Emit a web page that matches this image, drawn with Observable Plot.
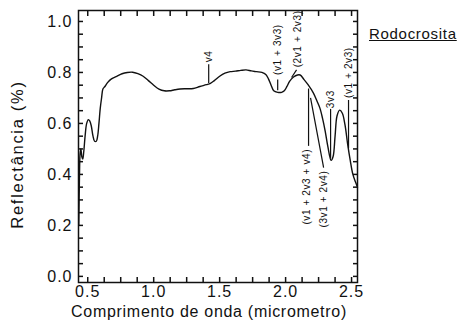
<!DOCTYPE html>
<html><head><meta charset="utf-8">
<script src="https://cdn.jsdelivr.net/npm/d3@7"></script>
<script src="https://cdn.jsdelivr.net/npm/@observablehq/plot@0.6"></script>
<style>
body{margin:0;background:#fff;}
#chart{position:relative;width:463px;height:327px;}
#title{position:absolute;left:369px;top:25px;font:15px "Liberation Sans",Arial,sans-serif;letter-spacing:0.7px;text-decoration:underline;color:#111;}
</style></head><body><div id="chart"><div id="title">Rodocrosita</div></div>
<script>
const wavelength = [0.432,0.437,0.442,0.448,0.455,0.462,0.470,0.480,0.492,0.505,0.515,0.527,0.540,0.552,0.565,0.575,0.585,0.595,0.605,0.615,0.630,0.650,0.680,0.720,0.760,0.800,0.840,0.880,0.920,0.960,1.000,1.040,1.080,1.120,1.160,1.200,1.250,1.300,1.350,1.400,1.430,1.460,1.500,1.540,1.580,1.620,1.660,1.700,1.740,1.780,1.820,1.850,1.870,1.890,1.910,1.940,1.970,1.990,2.010,2.030,2.060,2.090,2.110,2.140,2.170,2.210,2.240,2.260,2.280,2.300,2.320,2.345,2.360,2.375,2.390,2.410,2.430,2.450,2.470,2.490,2.510,2.530,2.545];
const reflectance = [0.20,0.38,0.48,0.50,0.47,0.46,0.49,0.55,0.60,0.615,0.61,0.59,0.55,0.53,0.53,0.55,0.60,0.66,0.70,0.735,0.745,0.76,0.775,0.785,0.795,0.800,0.801,0.795,0.785,0.768,0.750,0.735,0.728,0.728,0.732,0.735,0.736,0.737,0.745,0.752,0.757,0.768,0.785,0.797,0.803,0.805,0.808,0.810,0.806,0.803,0.800,0.792,0.775,0.750,0.728,0.722,0.722,0.728,0.745,0.765,0.782,0.790,0.790,0.772,0.752,0.720,0.685,0.66,0.62,0.57,0.51,0.455,0.47,0.55,0.63,0.652,0.64,0.595,0.52,0.455,0.40,0.37,0.35];

const xMajorTicks = [0.5,1.0,1.5,2.0,2.5];
const xMinorTicks = [0.5,0.625,0.75,0.875,1.0,1.125,1.25,1.375,1.5,1.625,1.75,1.875,2.0,2.125,2.25,2.375,2.5];
const yMajorTicks = [0.0,0.2,0.4,0.6,0.8,1.0];
const yMinorTicks = [0,0.05,0.1,0.15,0.2,0.25,0.3,0.35,0.4,0.45,0.5,0.55,0.6,0.65,0.7,0.75,0.8,0.85,0.9,0.95,1.0];

const xTitle = "Comprimento de onda (micrometro)";
const yTitle = "Reflectância (%)";

const bandLabels = ["v4","(v1 + 3v3)","(2v1 + 2v3)","(v1 + 2v3 + v4)","(3v1 + 2v4)","3v3","(v1 + 2v3)"];
const bandLabelX = [1.417,1.94,2.09,2.163,2.288,2.341,2.477];
const bandLabelY = [0.84,0.79,0.82,0.50,0.415,0.66,0.70];
const bandLabelAnchor = ["start","start","start","end","end","start","start"];

const leaderX = [1.417,1.94,2.174,2.341,2.477];
const leaderY1 = [0.757,0.728,0.735,0.655,0.50];
const leaderY2 = [0.83,0.77,0.51,0.46,0.69];

const slantX1 = [2.045,2.189];
const slantY1 = [0.78,0.70];
const slantX2 = [2.083,2.288];
const slantY2 = [0.81,0.427];

const spectrum = wavelength.map((x,i)=>({x, y: reflectance[i]}));
const labelsData = bandLabels.map((t,i)=>({t, x: bandLabelX[i], y: bandLabelY[i], a: bandLabelAnchor[i]}));
const leaders = leaderX.map((x,i)=>({x, y1: leaderY1[i], y2: leaderY2[i]}));
const slants = slantX1.map((x,i)=>({x1:x, y1:slantY1[i], x2:slantX2[i], y2:slantY2[i]}));

const W = 463, H = 327, mL = 78, mR = 106, mT = 10, mB = 45;
const tk = 5;
const ink = "#111";
const font = '"Liberation Sans", Arial, sans-serif';
const tickOpts = {tickSize: -tk, tickFormat: () => "", label: null, stroke: ink, strokeWidth: 1.5};
const chart = Plot.plot({
  width: W, height: H,
  marginLeft: mL, marginRight: mR, marginTop: mT, marginBottom: mB,
  style: {fontFamily: font, background: "white", color: ink, overflow: "visible"},
  x: {domain: [0.43, 2.545]},
  y: {domain: [-0.024, 1.043]},
  marks: [
    Plot.axisX(xMajorTicks, {tickSize: 0, tickPadding: 3, tickFormat: d=>d.toFixed(1), fontSize: 16, label: null}),
    Plot.axisY(yMajorTicks, {tickSize: 0, tickPadding: 6, tickFormat: d=>d.toFixed(1), fontSize: 16, label: null}),
    Plot.text([xTitle], {frameAnchor: "bottom", textAnchor: "middle", dx: -9, dy: 34, fontSize: 16, text: d=>d}),
    Plot.text([yTitle], {frameAnchor: "left", textAnchor: "middle", dx: -61, dy: 8, rotate: -90, fontSize: 16.5, text: d=>d}),
    Plot.axisX(xMinorTicks, {anchor: "bottom", ...tickOpts}),
    Plot.axisX(xMinorTicks, {anchor: "top", ...tickOpts}),
    Plot.axisY(yMinorTicks, {anchor: "left", ...tickOpts}),
    Plot.axisY(yMinorTicks, {anchor: "right", ...tickOpts}),
    Plot.frame({stroke: ink, strokeWidth: 1.5}),
    Plot.line(spectrum, {x: "x", y: "y", stroke: ink, strokeWidth: 1.4, curve: "catmull-rom"}),
    Plot.ruleX(leaders, {x: "x", y1: "y1", y2: "y2", stroke: ink, strokeWidth: 1.2}),
    Plot.link(slants, {x1: "x1", y1: "y1", x2: "x2", y2: "y2", stroke: ink, strokeWidth: 1.2}),
    Plot.text(labelsData.filter(d=>d.a==="start"), {x: "x", y: "y", text: "t", rotate: -90, textAnchor: "start", fontSize: 10, fill: ink}),
    Plot.text(labelsData.filter(d=>d.a==="end"), {x: "x", y: "y", text: "t", rotate: -90, textAnchor: "end", fontSize: 10, fill: ink})
  ]
});
const svg = d3.select(chart);
svg.selectAll("text").each(function() {
  const t = this.textContent;
  let ls = null;
  if (t === xTitle) ls = "0.7px";
  else if (t === yTitle) ls = "1.7px";
  else if (bandLabels.includes(t)) ls = "0.6px";
  else if (/^\d\.\d$/.test(t)) ls = "1px";
  if (ls) this.style.letterSpacing = ls;
});
document.getElementById("chart").prepend(chart);
</script>
</body></html>
